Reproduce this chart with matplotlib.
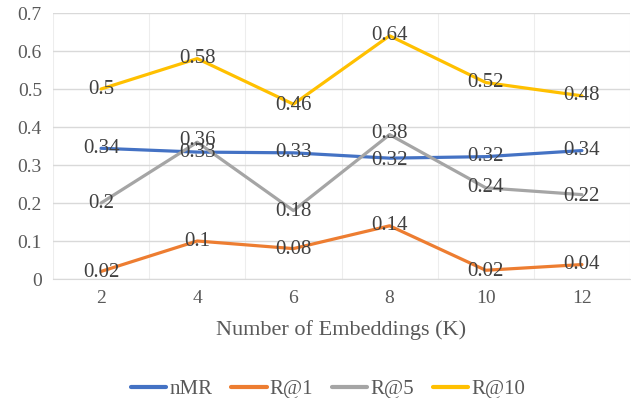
import numpy as np
import matplotlib.pyplot as plt

plt.rcParams['font.family'] = ['Liberation Serif', 'DejaVu Serif']

k = [2, 4, 6, 8, 10, 12]
nmr = [0.344, 0.334, 0.332, 0.318, 0.322, 0.338]
r1 = [0.02, 0.10, 0.08, 0.14, 0.023, 0.038]
r5 = [0.20, 0.36, 0.18, 0.38, 0.24, 0.222]
r10 = [0.50, 0.58, 0.46, 0.64, 0.517, 0.482]
names = ['nMR', 'R@1', 'R@5', 'R@10']
colors = ['#4472C4', '#ED7D31', '#A5A5A5', '#FFC000']

fig = plt.figure(figsize=(6.31, 3.98), dpi=100)
ax = fig.add_axes([53/631, 1 - 279/398, 577/631, 266/398])

for ys, name, c in zip([nmr, r1, r5, r10], names, colors):
    ax.plot(k, ys, color=c, lw=2.3, label=name, solid_capstyle='round')

# data labels (Excel style, centred on points)
offs = {
    'nMR': [0, 0, 0, -2, 0, 0],
    'R@1': [-1, 0, -1, 0, -1, 0],
    'R@5': [0, 1, -1, 1, 0, -1],
    'R@10': [0, 0, -1, 0, 0, 0],
}
for ys, name in zip([nmr, r1, r5, r10], names):
    for x, y, dy in zip(k, ys, offs[name]):
        ax.annotate('{:g}'.format(round(y, 2)), (x, y), xytext=(0, dy),
                    textcoords='offset points', ha='center', va='center',
                    fontsize=15, color='#404040')

ax.set_xlim(1, 13)
ax.set_ylim(0, 0.7)
ax.set_xticks(k)
ax.set_xticks(range(1, 14), minor=True)
ax.set_yticks(np.arange(0, 0.71, 0.1))
ax.set_yticklabels(['0', '0.1', '0.2', '0.3', '0.4', '0.5', '0.6', '0.7'])
ax.grid(axis='y', color='#D9D9D9', lw=1)
ax.grid(axis='x', which='minor', color='#EDEDED', lw=0.8)
ax.set_axisbelow(True)
for s in ['top', 'right', 'left']:
    ax.spines[s].set_visible(False)
ax.spines['bottom'].set_color('#D9D9D9')
ax.tick_params(which='both', length=0, labelsize=14, colors='#595959', pad=8)
ax.set_xlabel('Number of Embeddings (K)', fontsize=16, color='#595959', labelpad=9)

fig.legend(loc='lower center', bbox_to_anchor=(0.52, -0.05), ncol=4, frameon=False,
           fontsize=15, handlelength=1.7, handletextpad=0.15, columnspacing=0.9,
           labelcolor='#595959')
for line in fig.legends[0].get_lines():
    line.set_linewidth(3)

fig.savefig('out.png', dpi=100)
